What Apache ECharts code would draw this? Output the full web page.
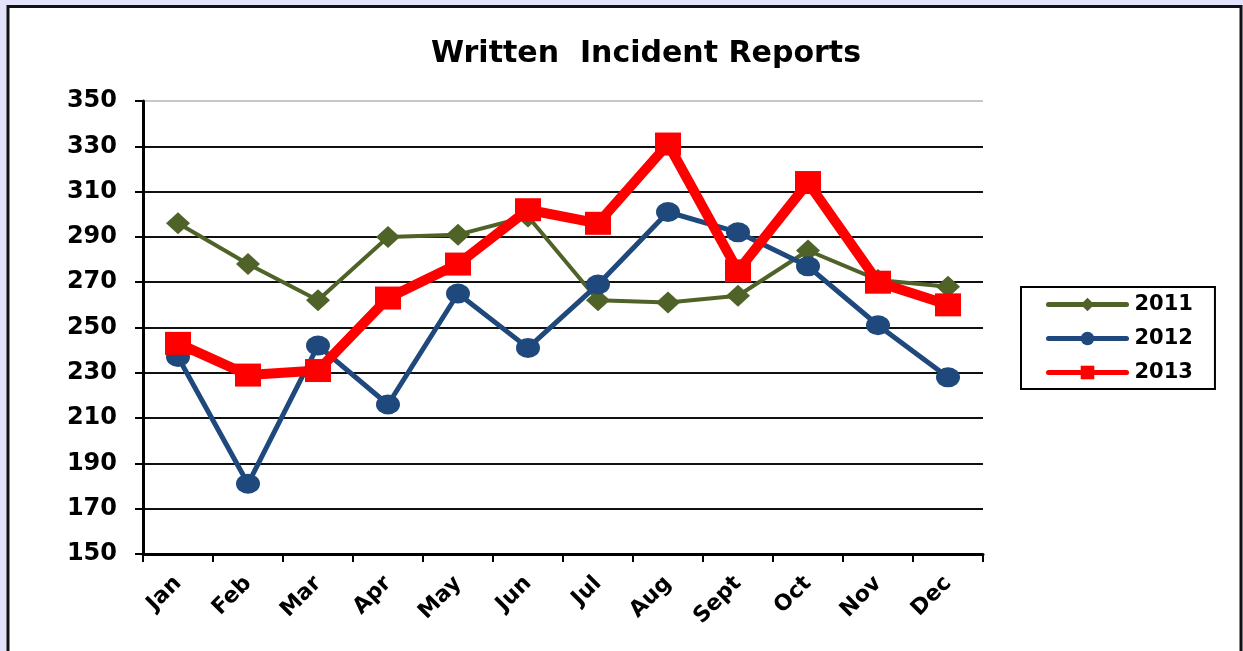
<!DOCTYPE html>
<html>
<head>
<meta charset="utf-8">
<title>Written Incident Reports</title>
<script src="https://cdn.jsdelivr.net/npm/echarts@6/dist/echarts.min.js"></script>
<style>
  html, body { margin: 0; padding: 0; background: #e2e2fb; }
  #chart { width: 1243px; height: 651px; }
</style>
</head>
<body>
<div id="chart"></div>
<script>
// values
const months = ['Jan', 'Feb', 'Mar', 'Apr', 'May', 'Jun', 'Jul', 'Aug', 'Sept', 'Oct', 'Nov', 'Dec']
const reports2011 = [296, 278, 262, 290, 291, 299, 262, 261, 264, 284, 271, 268]
const reports2012 = [237, 181, 242, 216, 265, 241, 269, 301, 292, 277, 251, 228]
const reports2013 = [243, 229, 231, 263, 278, 302, 296, 331, 275, 314, 270, 260]
const yMin = 150
const yMax = 350
const yStep = 20

const font = 'DejaVu Sans'

// last split line (350) is a faint grey in the original
const splitColors = []
for (let v = yMin; v <= yMax; v += yStep) {
  splitColors.push(v === yMax ? '#c8c8c8' : '#111')
}

const option = {
  backgroundColor: '#e2e2fb',
  animation: false,
  graphic: [{
    type: 'rect',
    z: -10,
    shape: { x: 8, y: 6.5, width: 1233, height: 700 },
    style: { fill: '#fff', stroke: '#111', lineWidth: 3 }
  }],
  title: {
    text: 'Written  Incident Reports',
    left: 431,
    top: 39,
    padding: 0,
    textStyle: { fontFamily: font, fontSize: 30, fontWeight: 'bold', color: '#000' }
  },
  legend: {
    orient: 'vertical',
    left: 1021,
    top: 287,
    padding: [7, 22, 6, 25],
    itemWidth: 78,
    itemHeight: 17,
    itemGap: 13,
    borderColor: '#000',
    borderWidth: 2,
    backgroundColor: '#fff',
    lineStyle: { width: 5, cap: 'round' },
    textStyle: { fontFamily: font, fontSize: 21, fontWeight: 'bold', color: '#000', padding: [0, 0, 0, 3] },
    data: ['2011', '2012', '2013']
  },
  grid: { left: 143, right: 260, top: 101, bottom: 97, containLabel: false },
  xAxis: {
    type: 'category',
    data: months,
    boundaryGap: true,
    axisLine: { lineStyle: { color: '#000', width: 3 } },
    axisTick: { show: true, length: 8, inside: false, lineStyle: { color: '#000', width: 2 } },
    axisLabel: {
      rotate: 45,
      margin: 26,
      interval: 0,
      fontFamily: font,
      fontSize: 22,
      fontWeight: 'bold',
      color: '#000'
    },
    splitLine: { show: false }
  },
  yAxis: {
    type: 'value',
    min: yMin,
    max: yMax,
    interval: yStep,
    axisLine: { show: true, lineStyle: { color: '#000', width: 3 } },
    axisTick: { show: true, length: 8, lineStyle: { color: '#000', width: 2 } },
    axisLabel: {
      margin: 26,
      fontFamily: font,
      fontSize: 24,
      fontWeight: 'bold',
      color: '#000'
    },
    splitLine: { show: true, lineStyle: { color: splitColors, width: 2 } }
  },
  series: [
    {
      name: '2011',
      type: 'line',
      data: reports2011,
      color: '#4f6228',
      symbol: 'diamond',
      symbolSize: [24, 22],
      showAllSymbol: true,
      lineStyle: { width: 4, color: '#4f6228' },
      itemStyle: { color: '#4f6228' }
    },
    {
      name: '2012',
      type: 'line',
      data: reports2012,
      color: '#1f497d',
      symbol: 'circle',
      symbolSize: [24, 20],
      showAllSymbol: true,
      lineStyle: { width: 5, color: '#1f497d' },
      itemStyle: { color: '#1f497d' }
    },
    {
      name: '2013',
      type: 'line',
      data: reports2013,
      color: '#ff0000',
      symbol: 'rect',
      symbolSize: [26, 23],
      showAllSymbol: true,
      lineStyle: { width: 10, color: '#ff0000' },
      itemStyle: { color: '#ff0000' }
    }
  ]
}

const myChart = echarts.init(document.getElementById('chart'), null, { renderer: 'canvas' })
myChart.setOption(option)
</script>
</body>
</html>
